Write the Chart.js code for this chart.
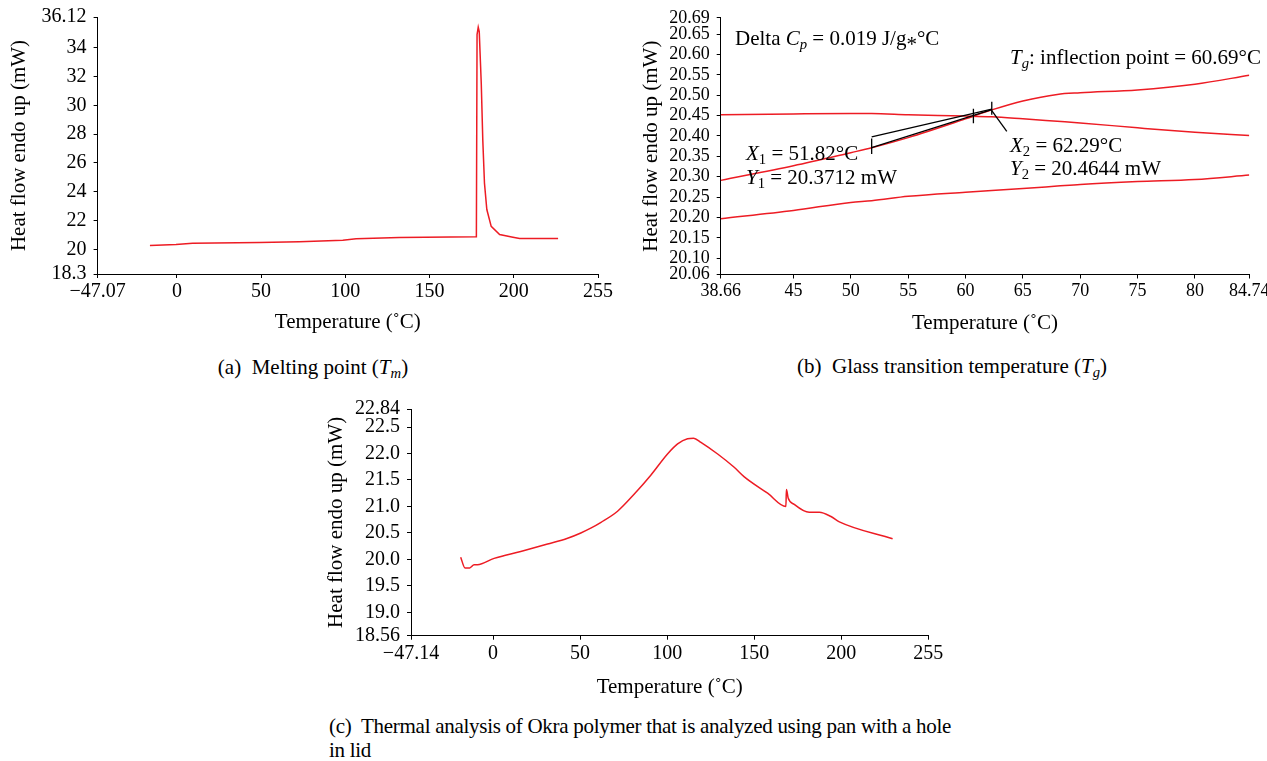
<!DOCTYPE html>
<html>
<head>
<meta charset="utf-8">
<script src="https://cdn.jsdelivr.net/npm/chart.js@4.4.1/dist/chart.umd.min.js"></script>
<style>
  body { margin: 0; width: 1267px; height: 761px; background: #fff; position: relative; overflow: hidden;
         font-family: "Liberation Serif", "Times New Roman", serif; color: #000; }
  canvas { position: absolute; }
  .txt { position: absolute; font-size: 21px; line-height: 24px; white-space: nowrap; }
  .cap { position: absolute; font-size: 21px; line-height: 24px; white-space: nowrap; }
  sub { font-size: 70%; vertical-align: -0.3em; line-height: 0; }
  .ast { position: relative; top: 0.28em; }
</style>
</head>
<body>
<canvas id="grafA" width="640" height="345" style="left:0;top:0"></canvas>
<canvas id="grafB" width="627" height="345" style="left:640px;top:0"></canvas>
<canvas id="grafC" width="640" height="310" style="left:320px;top:390px"></canvas>

<div class="cap" style="left:313px;top:355px;transform:translateX(-50%)">(a)&nbsp; Melting point (<i>T</i><sub><i>m</i></sub>)</div>
<div class="cap" style="left:952px;top:354px;transform:translateX(-50%)">(b)&nbsp; Glass transition temperature (<i>T</i><sub><i>g</i></sub>)</div>
<div class="cap" style="left:329px;top:714px;letter-spacing:-0.28px">(c)&nbsp; Thermal analysis of Okra polymer that is analyzed using pan with a hole<br>in lid</div>

<div class="txt" style="left:735px;top:26px">Delta <i>C</i><sub><i>p</i></sub> = 0.019 J/g<span class="ast">*</span>°C</div>
<div class="txt" style="left:1010px;top:45px"><i>T</i><sub><i>g</i></sub>: inflection point = 60.69°C</div>
<div class="txt" style="left:746px;top:141px"><i>X</i><sub>1</sub> = 51.82°C</div>
<div class="txt" style="left:746px;top:165px"><i>Y</i><sub>1</sub> = 20.3712 mW</div>
<div class="txt" style="left:1010px;top:133px"><i>X</i><sub>2</sub> = 62.29°C</div>
<div class="txt" style="left:1010px;top:156px"><i>Y</i><sub>2</sub> = 20.4644 mW</div>

<script>
// (a) Melting point
const tempA = [-16, -0.5, 9.3, 49, 72.7, 98.5, 106.4, 132, 177.8, 178.2, 178.9, 179.5, 180.7, 181.6, 182.6, 184, 186.6, 191.6, 199.5, 203.5, 226.3];
const heatA = [20.28, 20.35, 20.44, 20.48, 20.53, 20.64, 20.74, 20.83, 20.88, 34.9, 35.41, 35.1, 31.5, 27.6, 24.6, 22.77, 21.6, 21.04, 20.85, 20.76, 20.76];
const xTicksA = [-47.07, 0, 50, 100, 150, 200, 250];
const xLabelsA = ["\u221247.07", "0", "50", "100", "150", "200", "255"];
const yTicksA = [18.3, 20, 22, 24, 26, 28, 30, 32, 34, 36.12];
const yLabelsA = ["18.3", "20", "22", "24", "26", "28", "30", "32", "34", "36.12"];

// (b) Glass transition temperature
const tempB = [38.66, 45, 50, 51.82, 55, 60, 62.29, 65, 68, 70, 75, 80, 84.74];
const heatB_top = [20.452, 20.454, 20.455, 20.455, 20.452, 20.449, 20.447, 20.442, 20.436, 20.432, 20.42, 20.409, 20.401];
const heatB_mid = [20.291, 20.327, 20.359, 20.371, 20.396, 20.442, 20.464, 20.486, 20.502, 20.506, 20.513, 20.527, 20.549];
const heatB_low = [20.197, 20.217, 20.237, 20.241, 20.252, 20.262, 20.266, 20.271, 20.277, 20.281, 20.288, 20.293, 20.304];
// linhas pretas (tangentes, marcas e indicador)
const tangSupX = [51.82, 62.29], tangSupY = [20.398, 20.466];
const tangInfX = [51.82, 62.29], tangInfY = [20.3712, 20.4644];
const marca1X = [51.82, 51.82], marca1Y = [20.356, 20.394];
const marca2X = [60.69, 60.69], marca2Y = [20.431, 20.467];
const marca3X = [62.29, 62.29], marca3Y = [20.452, 20.484];
const setaX = [62.29, 63.6], setaY = [20.462, 20.411];
const xTicksB = [38.66, 45, 50, 55, 60, 65, 70, 75, 80, 84.74];
const yTicksB = [20.06, 20.10, 20.15, 20.20, 20.25, 20.30, 20.35, 20.40, 20.45, 20.50, 20.55, 20.60, 20.65, 20.69];

// (c) Thermal analysis
const tempC = [-18.6, -16.1, -13.4, -10.9, -9, 0.6, 15.9, 31.3, 42.8, 50.4, 56.1, 62, 71.5, 81, 90.6, 100.2, 106, 111.7, 115.2, 119.4, 129, 138.5, 144.3, 157.7, 168.2, 168.5, 169.5, 173, 181.6, 187.4, 194.1, 198.9, 229.5];
const heatC = [20.04, 19.84, 19.84, 19.9, 19.9, 20.02, 20.15, 20.29, 20.4, 20.5, 20.59, 20.7, 20.91, 21.23, 21.59, 21.99, 22.18, 22.28, 22.29, 22.21, 21.99, 21.74, 21.56, 21.25, 21.0, 21.32, 21.16, 21.04, 20.89, 20.89, 20.81, 20.71, 20.39];
const xTicksC = [-47.14, 0, 50, 100, 150, 200, 250];
const xLabelsC = ["\u221247.14", "0", "50", "100", "150", "200", "255"];
const yTicksC = [18.56, 19.0, 19.5, 20.0, 20.5, 21.0, 21.5, 22.0, 22.5, 22.84];
const yLabelsC = ["18.56", "19.0", "19.5", "20.0", "20.5", "21.0", "21.5", "22.0", "22.5", "22.84"];

const vermelho = "#ed1c24";
Chart.defaults.font.family = "'Liberation Serif', 'Times New Roman', serif";
Chart.defaults.color = "#000";

function pares(xs, ys) {
  return xs.map((x, i) => ({ x: x, y: ys[i] }));
}

function linha(xs, ys, cor, largura, suave) {
  const ds = { data: pares(xs, ys), borderColor: cor, borderWidth: largura, pointRadius: 0, fill: false, tension: 0 };
  if (suave) ds.cubicInterpolationMode = "monotone";
  return ds;
}

function eixo(valores, rotulos, tamanho, titulo, pad, fitar) {
  return {
    type: "linear",
    min: valores[0],
    max: valores[valores.length - 1],
    afterBuildTicks: (s) => { s.ticks = valores.map((v) => ({ value: v })); },
    afterFit: fitar,
    ticks: {
      autoSkip: false, maxRotation: 0, minRotation: 0, color: "#000", padding: pad,
      font: { size: tamanho },
      callback: (v, i) => rotulos[i],
    },
    grid: { drawOnChartArea: false, drawTicks: true, tickLength: 4, tickColor: "#000", tickWidth: 1 },
    border: { display: true, color: "#000", width: 1 },
    title: titulo,
  };
}

function eixoX(valores, rotulos, tamanho, altura, padTitulo) {
  return eixo(valores, rotulos, tamanho,
    { display: true, text: "Temperature (\u02daC)", font: { size: 21, lineHeight: 1.2 }, color: "#000", padding: { top: 0, bottom: padTitulo } },
    2,
    (s) => { s.height = altura; s.paddingLeft = 0; s.paddingRight = 0; });
}

function eixoY(valores, rotulos, tamanho, largura, padTitulo) {
  return eixo(valores, rotulos, tamanho,
    { display: true, text: "Heat flow endo up (mW)", font: { size: 21, lineHeight: 1.2 }, color: "#000", padding: { top: padTitulo, bottom: 0 } },
    7,
    (s) => { s.width = largura; s.paddingTop = 0; s.paddingBottom = 0; });
}

function grafico(id, datasets, x, y, padding) {
  return new Chart(document.getElementById(id).getContext("2d"), {
    type: "line",
    data: { datasets: datasets },
    options: {
      responsive: false,
      animation: false,
      layout: { padding: padding },
      plugins: { legend: { display: false }, tooltip: { enabled: false } },
      scales: { x: x, y: y },
    },
  });
}

grafico("grafA",
  [linha(tempA, heatA, vermelho, 1.5, false)],
  eixoX(xTicksA, xLabelsA, 20, 71, 10),
  eixoY(yTicksA, yLabelsA, 20, 97.6, 7),
  { left: 0, top: 17, right: 42, bottom: 0 });

grafico("grafB",
  [
    linha(tangSupX, tangSupY, "#000", 1.3, false),
    linha(tangInfX, tangInfY, "#000", 1.3, false),
    linha(marca1X, marca1Y, "#000", 1.3, false),
    linha(marca2X, marca2Y, "#000", 1.3, false),
    linha(marca3X, marca3Y, "#000", 1.3, false),
    linha(setaX, setaY, "#000", 1.3, false),
    linha(tempB, heatB_top, vermelho, 1.5, true),
    linha(tempB, heatB_mid, vermelho, 1.5, true),
    linha(tempB, heatB_low, vermelho, 1.5, true),
  ],
  eixoX(xTicksB, xTicksB.map(String), 18, 70.5, 9),
  eixoY(yTicksB, yTicksB.map((v) => v.toFixed(2)), 18, 80.7, -1),
  { left: 0, top: 17.8, right: 17.7, bottom: 0 });

grafico("grafC",
  [linha(tempC, heatC, vermelho, 1.5, true)],
  eixoX(xTicksC, xLabelsC, 20, 64.3, 0),
  eixoY(yTicksC, yLabelsC, 20, 91, 4),
  { left: 0, top: 19, right: 31.7, bottom: 0 });
</script>
</body>
</html>
